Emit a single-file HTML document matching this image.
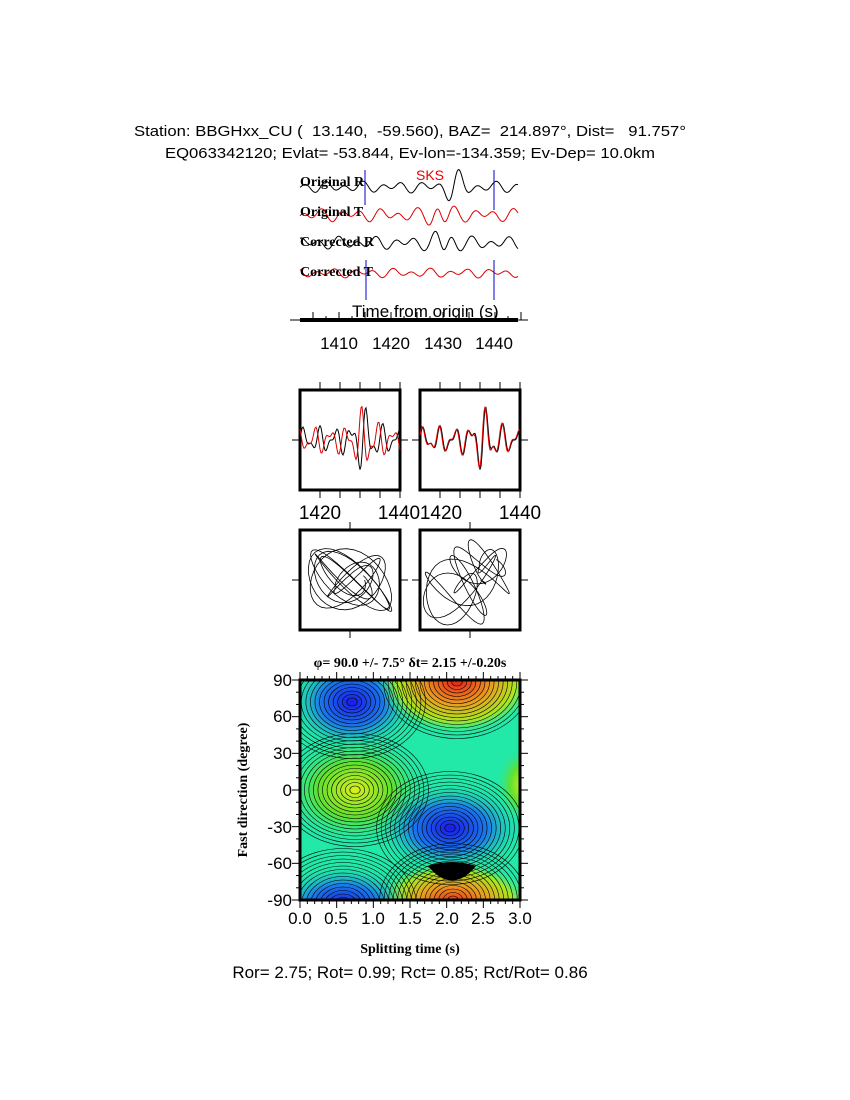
<!DOCTYPE html>
<html><head><meta charset="utf-8"><style>
body{margin:0;background:#fff;width:850px;height:1100px;overflow:hidden}
svg{position:absolute;left:0;top:0}
text{font-family:"Liberation Sans",sans-serif;white-space:pre}
.s{font-family:"Liberation Serif",serif;font-weight:bold}
</style></head><body>
<svg id="g" width="850" height="1100" viewBox="0 0 850 1100">
<defs>
<radialGradient id="blue"><stop offset="0" stop-color="#1a1ae8"/><stop offset="0.5" stop-color="#1a7ae8"/><stop offset="1" stop-color="#22e8a8" stop-opacity="0"/></radialGradient>
<radialGradient id="red"><stop offset="0" stop-color="#e81a1a"/><stop offset="0.45" stop-color="#e8a020"/><stop offset="0.75" stop-color="#a8e820"/><stop offset="1" stop-color="#22e8a8" stop-opacity="0"/></radialGradient>
<radialGradient id="yel"><stop offset="0" stop-color="#d8f020"/><stop offset="0.5" stop-color="#60e030"/><stop offset="1" stop-color="#22e8a8" stop-opacity="0"/></radialGradient>
<clipPath id="cc"><rect x="300" y="680" width="220" height="220"/></clipPath>
</defs>
<text x="134" y="136" font-size="15" textLength="552" lengthAdjust="spacingAndGlyphs" xml:space="preserve">Station: BBGHxx_CU (  13.140,  -59.560), BAZ=  214.897°, Dist=   91.757°</text>
<text x="165" y="158" font-size="15" textLength="490" lengthAdjust="spacingAndGlyphs">EQ063342120; Evlat= -53.844, Ev-lon=-134.359; Ev-Dep= 10.0km</text>
<text x="430" y="180" font-size="14" fill="#e00" text-anchor="middle">SKS</text>
<g id="top"></g>
<text class="s" x="300" y="186" font-size="14">Original R</text>
<text class="s" x="300" y="216" font-size="14">Original T</text>
<text class="s" x="300" y="246" font-size="14">Corrected R</text>
<text class="s" x="300" y="276" font-size="14">Corrected T</text>
<line x1="365" y1="170" x2="365" y2="205" stroke="#00c" stroke-width="1"/>
<line x1="494" y1="170" x2="494" y2="210" stroke="#00c" stroke-width="1"/>
<line x1="366" y1="260" x2="366" y2="300" stroke="#00c" stroke-width="1"/>
<line x1="494" y1="260" x2="494" y2="300" stroke="#00c" stroke-width="1"/>
<text x="352" y="317" font-size="17">Time from origin (s)</text>
<line x1="290" y1="320" x2="528" y2="320" stroke="#000" stroke-width="1"/>
<line x1="300" y1="320" x2="518" y2="320" stroke="#000" stroke-width="4"/>
<g id="ticks" stroke="#000"></g>
<g font-size="17" text-anchor="middle"><text x="339" y="349">1410</text><text x="391" y="349">1420</text><text x="443" y="349">1430</text><text x="494" y="349">1440</text></g>
<g id="mid"></g>
<g font-size="19" text-anchor="middle"><text x="320" y="519">1420</text><text x="399" y="519">1440</text><text x="441" y="519">1420</text><text x="520" y="519">1440</text></g>
<g clip-path="url(#cc)">
<rect x="300" y="680" width="220" height="220" fill="#22e8a8"/>
<ellipse cx="352" cy="702" rx="65" ry="50" fill="url(#blue)"/>
<ellipse cx="457" cy="680" rx="80" ry="55" fill="url(#red)"/>
<ellipse cx="355" cy="790" rx="75" ry="55" fill="url(#yel)"/>
<ellipse cx="450" cy="828" rx="75" ry="45" fill="url(#blue)"/>
<ellipse cx="453" cy="905" rx="80" ry="45" fill="url(#red)"/>
<ellipse cx="343" cy="905" rx="70" ry="40" fill="url(#blue)"/>
<ellipse cx="525" cy="785" rx="30" ry="40" fill="url(#yel)"/>
<path d="M428,866 Q452,895 476,866 Q452,858 428,866 Z" fill="#000"/>
<g id="cont" fill="none" stroke="#000" stroke-width="0.6"></g>
</g>
<rect x="300" y="680" width="220" height="220" fill="none" stroke="#000" stroke-width="3"/>
<g id="cticks" stroke="#000"></g>
<text class="s" x="410" y="667" font-size="14" text-anchor="middle">φ= 90.0 +/- 7.5° δt= 2.15 +/-0.20s</text>
<g font-size="17" text-anchor="end"><text x="292" y="686">90</text><text x="292" y="722">60</text><text x="292" y="759">30</text><text x="292" y="796">0</text><text x="292" y="833">-30</text><text x="292" y="869">-60</text><text x="292" y="906">-90</text></g>
<g font-size="17" text-anchor="middle"><text x="300" y="924">0.0</text><text x="336" y="924">0.5</text><text x="373" y="924">1.0</text><text x="410" y="924">1.5</text><text x="447" y="924">2.0</text><text x="483" y="924">2.5</text><text x="520" y="924">3.0</text></g>
<text class="s" x="410" y="953" font-size="14" text-anchor="middle">Splitting time (s)</text>
<text class="s" x="247" y="790" font-size="14" text-anchor="middle" transform="rotate(-90 247 790)">Fast direction (degree)</text>
<text x="410" y="978" font-size="17" text-anchor="middle">Ror= 2.75; Rot= 0.99; Rct= 0.85; Rct/Rot= 0.86</text>
</svg>
<script>
var NS="http://www.w3.org/2000/svg";
function el(p,t,a){var e=document.createElementNS(NS,t);for(var k in a)e.setAttribute(k,a[k]);p.appendChild(e);return e;}
function wig(x0,x1,y,amp,seed,col,burst){var d="";for(var x=x0;x<=x1;x+=1){var v=Math.sin(x*0.33+seed)*0.6+Math.sin(x*0.19+seed*2)*0.4;var b=burst?Math.exp(-Math.pow((x-burst)/12,2))*2.2:0;var yy=y-amp*v*(1+b);d+=(d?"L":"M")+x+","+yy.toFixed(1);}
el(document.getElementById('top'),'path',{d:d,fill:'none',stroke:col,'stroke-width':1});}
wig(300,518,187,6,1,'#000',455);wig(300,518,215,7,2,'#d00',440);wig(300,518,243,7,3,'#000',445);wig(300,518,273,5,4,'#d00',0);
var tk=document.getElementById('ticks');for(var i=0;i<17;i++){var x=313+i*13;el(tk,'line',{x1:x,y1:320,x2:x,y2:i%2==0?312:316});}
var m=document.getElementById('mid');
[[300,390],[420,390],[300,530],[420,530]].forEach(function(b,i){
el(m,'rect',{x:b[0],y:b[1],width:100,height:100,fill:'none',stroke:'#000','stroke-width':3});
el(m,'line',{x1:b[0]-8,y1:b[1]+50,x2:b[0],y2:b[1]+50,stroke:'#000'});el(m,'line',{x1:b[0]+100,y1:b[1]+50,x2:b[0]+108,y2:b[1]+50,stroke:'#000'});
if(i<2){[20,40,60,80,100].forEach(function(dx){el(m,'line',{x1:b[0]+dx,y1:b[1]-8,x2:b[0]+dx,y2:b[1],stroke:'#000'});el(m,'line',{x1:b[0]+dx,y1:b[1]+100,x2:b[0]+dx,y2:b[1]+108,stroke:'#000'});});
 [['#000',0],['#d00',i?0.3:2]].forEach(function(c){var d="";for(var x=0;x<=100;x++){var v=Math.sin(x*0.4+c[1])*0.5+Math.sin(x*0.7+c[1]*1.3)*0.3;v*=1+1.5*Math.exp(-Math.pow((x-65)/12,2));var yy=b[1]+50-v*18;d+=(d?"L":"M")+(b[0]+x)+","+yy.toFixed(1);}el(m,'path',{d:d,fill:'none',stroke:c[0],'stroke-width':1});});}
else{el(m,'line',{x1:b[0]+50,y1:b[1]-8,x2:b[0]+50,y2:b[1],stroke:'#000'});el(m,'line',{x1:b[0]+50,y1:b[1]+100,x2:b[0]+50,y2:b[1]+108,stroke:'#000'});
 var d="";for(var t=0;t<=300;t++){var a=t*0.17;var r=(i==2?42:30)*(0.35+0.65*Math.abs(Math.sin(t*0.031)));var x=b[0]+50+r*Math.cos(a)+(i==3?Math.sin(t*0.07)*20:0);var y=b[1]+50+r*Math.sin(a*1.3)*(i==2?0.75:0.9)-(i==3?Math.sin(t*0.07)*20:0);x=Math.max(b[0]+3,Math.min(b[0]+97,x));y=Math.max(b[1]+3,Math.min(b[1]+97,y));d+=(d?"L":"M")+x.toFixed(1)+","+y.toFixed(1);}
 el(m,'path',{d:d,fill:'none',stroke:'#000','stroke-width':0.8});}
});
var c=document.getElementById('cont');
[[352,702],[457,682],[355,790],[450,828],[453,900],[343,905]].forEach(function(p){for(var r=4;r<60;r+=3.5)el(c,'ellipse',{cx:p[0],cy:p[1],rx:r*1.3,ry:r});});
var ct=document.getElementById('cticks');for(var i=0;i<=30;i++){var x=300+i*220/30,L=i%5==0?8:4;el(ct,'line',{x1:x,y1:900,x2:x,y2:900+L});el(ct,'line',{x1:x,y1:680,x2:x,y2:680-L});}
for(var j=0;j<=18;j++){var y=680+j*220/18,L=j%3==0?8:4;el(ct,'line',{x1:300,y1:y,x2:300-L,y2:y});el(ct,'line',{x1:520,y1:y,x2:520+L,y2:y});}
</script>
</body></html>
